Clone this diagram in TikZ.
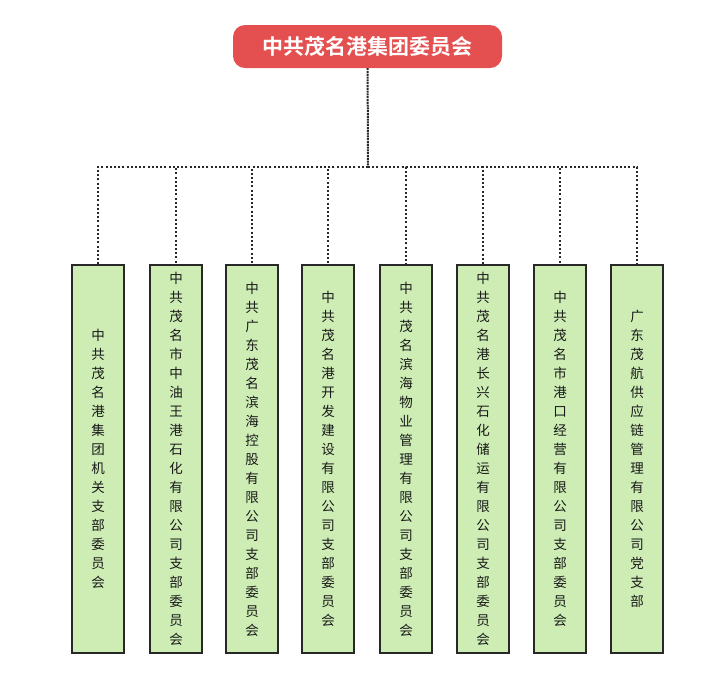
\documentclass[tikz,border=0pt]{standalone}
\usepackage{fontspec}
\newfontfamily\cjk{Noto Sans CJK SC}
\newfontfamily\cjkbf{Noto Sans CJK SC Bold}
\XeTeXlinebreaklocale "zh"
\XeTeXlinebreakskip=0pt plus 1pt
\definecolor{titlered}{RGB}{228,80,80}
\definecolor{branchgreen}{RGB}{205,237,181}
\definecolor{edgegray}{RGB}{40,40,40}
\tikzset{
	titlebox/.style={rounded corners=12pt, fill=titlered, text=white, minimum width=269pt, minimum height=43pt, font=\cjkbf\fontsize{21}{24}\selectfont},
	branchbox/.style={draw=edgegray, line width=1.8pt, fill=branchgreen, minimum width=52pt, minimum height=388pt, text width=16pt, align=center, inner sep=0pt, text=black!90, font=\cjk\fontsize{13.5}{19}\selectfont, anchor=north},
	link/.style={dash pattern=on 2pt off 2.2pt, line width=2pt, edgegray}
}
\begin{document}
\begin{tikzpicture}[x=1pt, y=-1pt]
				\useasboundingbox (0,0) rectangle (720,681);
				%top committee
				\node[titlebox] (top) at (367.5, 46.5){中共茂名港集团委员会};
				\coordinate (hub) at (368, 167);
				\draw[link, dash pattern=on 2pt off 0.8pt] (top) -- (hub);
				
				%branch committees
				\foreach \x/\n/\t in {98/b1/中共茂名港集团机关支部委员会,
					176/b2/中共茂名市中油王港石化有限公司支部委员会,
					252/b3/中共广东茂名滨海控股有限公司支部委员会,
					328/b4/中共茂名港开发建设有限公司支部委员会,
					406/b5/中共茂名滨海物业管理有限公司支部委员会,
					483/b6/中共茂名港长兴石化储运有限公司支部委员会,
					560/b7/中共茂名市港口经营有限公司支部委员会,
					637/b8/广东茂航供应链管理有限公司党支部}{
					\node[branchbox] (\n) at (\x, 264){\t};
					\draw[link] (hub) -| (\n.north);
				}
			\end{tikzpicture}
\end{document}
